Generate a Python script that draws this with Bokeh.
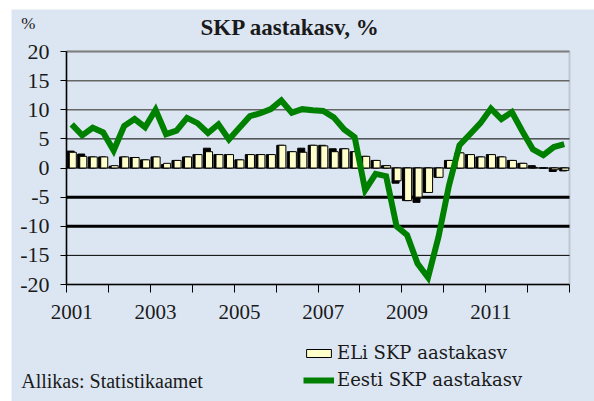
from bokeh.plotting import figure
from bokeh.models import FixedTicker, Label, Legend, LegendItem, BoxAnnotation
from bokeh.embed import file_html
from bokeh.resources import INLINE

# ---- data (quarterly, 2001Q1 .. 2012Q4) ----
year_labels = ["2001", "2003", "2005", "2007", "2009", "2011"]

eu_growth = [2.7, 2.0, 1.9, 1.9, 0.4, 1.9, 1.8, 1.4,
             1.9, 0.8, 1.3, 1.9, 2.3, 2.8, 2.3, 2.3,
             1.4, 2.3, 2.3, 2.3, 3.9, 2.8, 2.7, 3.9,
             3.8, 2.8, 3.3, 2.8, 2.0, 1.3, 0.4, -2.2,
             -5.6, -5.0, -4.2, -1.6, 1.3, 2.6, 2.3, 1.9,
             2.3, 1.9, 1.3, 0.8, 0.1, 0.0, -0.3, -0.4]

shadow_growth = [2.9, 2.4, 1.9, 1.9, 0.3, 1.9, 1.8, 1.4,
                 1.9, 0.6, 1.3, 1.9, 2.3, 3.4, 2.3, 2.3,
                 1.4, 2.3, 2.3, 2.3, 3.9, 2.8, 3.4, 3.9,
                 3.9, 3.3, 3.3, 2.8, 2.0, 1.3, 0.4, -2.6,
                 -5.6, -5.9, -4.2, -1.6, 1.3, 2.6, 2.3, 1.9,
                 2.3, 1.9, 1.3, 0.8, 0.4, 0.0, -0.6, -0.5]

eesti_growth = [7.5, 5.6, 6.9, 6.1, 3.0, 7.2, 8.4, 7.0,
                10.0, 5.8, 6.4, 8.6, 7.7, 6.0, 7.5, 4.9,
                6.9, 8.9, 9.4, 10.1, 11.6, 9.5, 10.1, 9.9,
                9.8, 8.7, 6.6, 5.3, -3.8, -1.0, -1.4, -10.0,
                -11.5, -16.4, -18.8, -11.8, -3.0, 3.9, 5.8, 7.7,
                10.2, 8.4, 9.6, 6.3, 3.2, 2.2, 3.6, 4.1]

y_ticks = [-20, -15, -10, -5, 0, 5, 10, 15, 20]
y_min, y_max = -20, 20

n = len(eesti_growth)
x_center = [i + 0.5 for i in range(n)]

# ---- layout (pixels, page coordinates) ----
FIG_W, FIG_H = 594, 401
PLOT_L, PLOT_R, PLOT_T, PLOT_B = 66, 25, 51, 117
ux = (FIG_W - PLOT_L - PLOT_R) / n
uy = (FIG_H - PLOT_T - PLOT_B) / (y_max - y_min)


def fx(px):
    return (px - PLOT_L) / ux


def fy(py):
    return y_max - (py - PLOT_T) / uy


SERIF = "'Liberation Serif'"
WIDE_SERIF = "'DejaVu Serif'"
BG = "#dce6f2"
TXT = "#1a1a1a"
EU_FILL = "#ffffcc"
EST_COLOR = "#008000"

p = figure(width=FIG_W, height=FIG_H,
           x_range=(fx(0), fx(FIG_W)), y_range=(fy(FIG_H), fy(0)),
           output_backend="svg", toolbar_location=None, min_border=0,
           background_fill_color="white", border_fill_color="white")
p.outline_line_color = None
p.xgrid.visible = False
p.ygrid.visible = False

# light-blue chart area (white strip at top/left like the original)
p.add_layout(BoxAnnotation(left=fx(11), top=fy(9), fill_color=BG, fill_alpha=1,
                           line_alpha=0, level="underlay"))
# plot-area border (top/right visible in grey)
p.add_layout(BoxAnnotation(left=0, right=n, bottom=y_min, top=y_max,
                           fill_alpha=0, line_color="#808080", line_width=2,
                           level="underlay"))

# gridlines with individual styles
grid_style = {20: ("#808080", 2), 15: ("#666666", 1.5), 10: ("#666666", 1.5),
              5: ("black", 1), 0: ("black", 1), -5: ("black", 3),
              -10: ("black", 3), -15: ("black", 1)}
for lvl in y_ticks:
    if lvl in grid_style:
        c, w = grid_style[lvl]
        p.segment(x0=[0], x1=[n], y0=[lvl], y1=[lvl], line_color=c, line_width=w)

# axes fixed at the plot-area edges
p.xaxis.fixed_location = y_min
p.xaxis.bounds = (0, n)
p.xaxis.ticker = FixedTicker(ticks=[8 * k + 0.5 for k in range(len(year_labels))],
                             minor_ticks=list(range(0, n + 1, 4)))
p.xaxis.major_label_overrides = {8 * k + 0.5: lab for k, lab in enumerate(year_labels)}
p.xaxis.major_tick_out = 0
p.xaxis.major_tick_in = 0
p.xaxis.minor_tick_out = 8
p.xaxis.minor_tick_in = 0
p.xaxis.minor_tick_line_color = "black"
p.xaxis.axis_line_color = "black"
p.xaxis.axis_line_width = 1.5
p.xaxis.major_label_standoff = 12
p.xaxis.major_label_text_font = SERIF
p.xaxis.major_label_text_font_size = "21px"
p.xaxis.major_label_text_color = TXT

p.yaxis.fixed_location = 0
p.yaxis.bounds = (y_min, y_max)
p.yaxis.ticker = FixedTicker(ticks=y_ticks, minor_ticks=[])
p.yaxis.major_label_overrides = {t: str(t) for t in y_ticks}
p.yaxis.major_tick_out = 6
p.yaxis.major_tick_in = 0
p.yaxis.major_tick_line_color = "black"
p.yaxis.axis_line_color = "black"
p.yaxis.axis_line_width = 1.5
p.yaxis.major_label_standoff = 11
p.yaxis.major_label_text_font = SERIF
p.yaxis.major_label_text_font_size = "22px"
p.yaxis.major_label_text_color = TXT

# bars and line
p.vbar(x=[c - 0.1 for c in x_center], top=shadow_growth, width=0.67,
       fill_color="black", line_color="black", line_width=1)
eu_r = p.vbar(x=[c + 0.1 for c in x_center], top=eu_growth, width=0.67,
              fill_color=EU_FILL, line_color="black", line_width=1)
est_r = p.line(x_center, eesti_growth, line_color=EST_COLOR, line_width=6,
               line_join="miter")

legend = Legend(items=[LegendItem(label="ELi SKP aastakasv", renderers=[eu_r]),
                       LegendItem(label="Eesti SKP aastakasv", renderers=[est_r])],
                location=(303, 10), orientation="vertical",
                padding=0, margin=0, spacing=4, glyph_width=31, glyph_height=10,
                label_height=23, label_standoff=3,
                label_text_font=WIDE_SERIF, label_text_font_size="18px",
                label_text_color=TXT,
                background_fill_alpha=0, border_line_color=None)
p.add_layout(legend)

p.add_layout(Label(x=fx(200), y=fy(26.6), text="SKP aastakasv, %", text_font=SERIF,
                   text_font_style="bold", text_font_size="23px",
                   text_color=TXT, text_baseline="middle"))
p.add_layout(Label(x=fx(20.7), y=fy(23), text="%", text_font=SERIF,
                   text_font_size="17px", text_color=TXT, text_baseline="middle"))
p.add_layout(Label(x=fx(20.7), y=fy(380), text="Allikas: Statistikaamet",
                   text_font=SERIF, text_font_size="20px", text_color=TXT,
                   text_baseline="middle"))

open("out.html", "w").write(file_html(p, INLINE))
